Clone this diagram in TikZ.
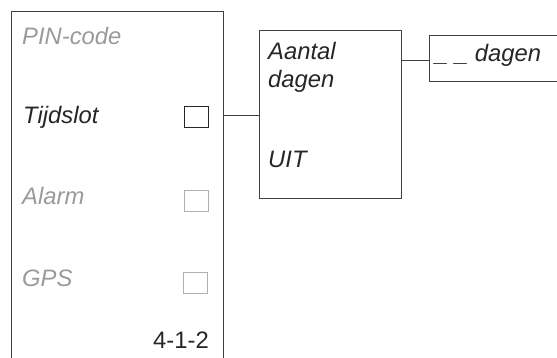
\documentclass[tikz,border=0pt]{standalone}
\usepackage{fontspec}
\setmainfont{Liberation Sans}
\usepackage{xcolor}
\usetikzlibrary{calc, positioning}

\definecolor{lineclr}{HTML}{404040}
\definecolor{offtext}{HTML}{9A9A9A}
\definecolor{offbox}{HTML}{B0B0B0}

\tikzset{
  menutxt/.style={anchor=base west, inner sep=0pt, font=\fontsize{23.8}{28}\selectfont\itshape},
  chkbox/.style={draw, minimum width=24pt, minimum height=21pt, inner sep=0pt},
  wire/.style={draw=lineclr, line width=1pt}
}

\begin{document}
\begin{tikzpicture}[x=1pt, y=-1pt]
  \useasboundingbox (0,0) rectangle (557,358);

  % --- Menu panel (open at the bottom) ---
  \draw[wire] (11,358) -- (11,12) -- (223,12) -- (223,358);
  \node[menutxt, text=offtext] (pin) at (22,45) {PIN-code};
  \node[menutxt, text=black!85] (tijd) at (23,124) {Tijdslot};
  \node[menutxt, text=offtext] (alarm) at (22,205) {Alarm};
  \node[menutxt, text=offtext] (gps) at (22,287) {GPS};
  \node[chkbox, draw=black!85, line width=0.9pt] (tijdchk) at (196,116.5) {};
  \node[chkbox, draw=offbox, line width=0.8pt] (alarmchk) at (196,200.5) {};
  \node[chkbox, draw=offbox, line width=0.8pt] (gpschk) at (195,282.5) {};
  \node[anchor=base east, inner sep=0pt, font=\fontsize{23.8}{28}\selectfont, text=black!85] (code) at (209,348) {4-1-2};
  \coordinate (panelR) at (223,116);

  % --- Submenu ---
  \node[wire, minimum width=142pt, minimum height=168pt, inner sep=0pt] (sub) at (330,115) {};
  \node[menutxt, text=black!85] (aantal) at (268,60) {Aantal};
  \node[menutxt, text=black!85] (dagen) at (268,88) {dagen};
  \node[menutxt, text=black!85] (uit) at (268,168) {UIT};
  \draw[wire] (panelR) -- (sub.west |- panelR);

  % --- Value field (open at the right) ---
  \coordinate (fieldL) at (429,61);
  \draw[wire] (557,36) -- (429,36) -- (429,82) -- (557,82);
  \node[menutxt, text=black!85] (val) at (435,62) {\_ \_ dagen};
  \draw[wire] (sub.east |- fieldL) -- (fieldL);
\end{tikzpicture}
\end{document}
